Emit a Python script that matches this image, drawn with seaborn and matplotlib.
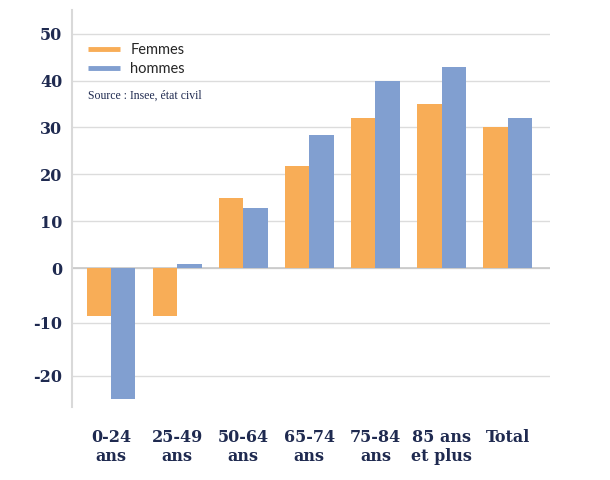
import numpy as np
import pandas as pd
import matplotlib.pyplot as plt
import seaborn as sns
from matplotlib.lines import Line2D

# data
categories = ['0-24\nans', '25-49\nans', '50-64\nans', '65-74\nans',
              '75-84\nans', '85 ans\net plus', 'Total']
femmes = [-8.7, -8.7, 15.0, 21.8, 32.1, 35.1, 30.0]
hommes = [-24.3, 0.9, 12.8, 28.4, 40.0, 42.8, 32.1]
series = ['Femmes', 'hommes']
yticks = [-20, -10, 0, 10, 20, 30, 40, 50]

df = pd.DataFrame({
    'cat': categories * 2,
    'val': femmes + hommes,
    'sexe': [series[0]] * len(categories) + [series[1]] * len(categories),
})

navy = '#1F2A50'
orange = '#F8AD57'
blue = '#819FD0'

# the source chart uses a slightly stretched scale below zero
knots_v = np.array([-40.0, -20.0, -10.0, 0.0, 60.0])
knots_d = np.array([-107.7 - 106.0, -107.7, -54.4, 0.0, 282.0]) / 4.7


def fwd(v):
    return np.interp(v, knots_v, knots_d)


def inv(d):
    return np.interp(d, knots_d, knots_v)


sns.set_style('white')
fig = plt.figure(figsize=(6.1, 4.8), dpi=100)
ax = fig.add_axes([0.118, 0.1527, 0.7836, 0.8263])

sns.barplot(data=df, x='cat', y='val', hue='sexe', hue_order=series,
            palette=[orange, blue], width=0.74, gap=0, saturation=1,
            linewidth=0, legend=False, ax=ax, zorder=3)

ax.set_yscale('function', functions=(fwd, inv))
ax.set_ylim(-25.8, 55)
ax.set_xlim(-0.59, 6.64)
ax.set_yticks(yticks)
ax.set_yticklabels([str(t) for t in yticks])
ax.yaxis.grid(True, color='#DCDCDC', linewidth=1, zorder=0)
ax.set_axisbelow(True)
ax.axhline(0, color='#C8C8C8', linewidth=1.2, zorder=2)

for s in ['top', 'right', 'bottom']:
    ax.spines[s].set_visible(False)
ax.spines['left'].set_color('#D9D9D9')
ax.spines['left'].set_linewidth(1.5)

ax.tick_params(axis='y', length=4, color='#D9D9D9', width=1, pad=3)
ax.tick_params(axis='x', length=0, pad=16)
for lab in ax.get_yticklabels() + ax.get_xticklabels():
    lab.set_fontfamily('DejaVu Serif')
    lab.set_fontweight('bold')
    lab.set_fontsize(11.5)
    lab.set_color(navy)
for lab in ax.get_xticklabels():
    lab.set_linespacing(1.15)
ax.set_xlabel('')
ax.set_ylabel('')

handles = [Line2D([], [], color=orange, lw=3.5, solid_capstyle='butt'),
           Line2D([], [], color=blue, lw=3.5, solid_capstyle='butt')]
ax.legend(handles, series, loc='upper left', bbox_to_anchor=(0.006, 0.95),
          frameon=False, handlelength=2.2, handletextpad=0.7,
          labelspacing=0.35, prop={'family': 'Lato', 'size': 10.5})
fig.text(0.144, 0.8, 'Source : Insee, état civil', fontsize=8.5, va='center',
         family='Liberation Serif', color=navy)

fig.savefig('out.png', dpi=100)
